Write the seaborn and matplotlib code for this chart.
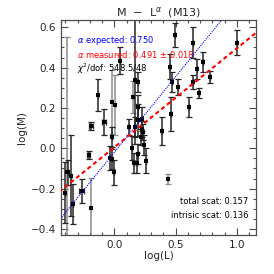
import matplotlib
matplotlib.use('Agg')
import matplotlib.pyplot as plt
import seaborn as sns
import pandas as pd
import numpy as np
from matplotlib.ticker import MultipleLocator

# values
log_l = [-0.40, -0.39, -0.375, -0.355, -0.334, -0.266, -0.21, -0.19, -0.19, -0.135,
         -0.084, -0.02, 0.006, -0.016, -0.035, -0.02, -0.005, 0.045, 0.155, 0.17,
         0.19, 0.195, 0.19, 0.223, 0.122, 0.169, 0.223, 0.142, 0.163, 0.182,
         0.19, 0.217, 0.23, 0.242, 0.255, 0.39, 0.435, 0.454, 0.467, 0.494,
         0.516, 0.462, 0.61, 0.643, 0.643, 0.676, 0.69, 0.725, 0.78, 1.0]
log_m = [-0.22, -0.12, -0.12, -0.136, -0.276, -0.21, -0.033, -0.295, 0.112, 0.264,
         0.132, 0.23, 0.215, 0.055, -0.05, -0.055, -0.12, 0.435, 0.256, 0.339,
         0.327, 0.206, 0.14, 0.145, 0.107, 0.107, 0.094, 0.0, -0.074, -0.071,
         -0.03, 0.058, 0.082, 0.016, -0.061, 0.085, -0.152, 0.405, 0.33, 0.562,
         0.302, 0.17, 0.203, 0.524, 0.33, 0.393, 0.273, 0.426, 0.355, 0.524]
err_m = [0.15, 0.67, 0.06, 0.20, 0.10, 0.06, 0.02, 0.15, 0.02, 0.08,
         0.065, 0.16, 0.15, 0.05, 0.06, 0.05, 0.06, 0.065, 0.08, 0.32,
         0.05, 0.06, 0.08, 0.06, 0.04, 0.05, 0.04, 0.06, 0.05, 0.05,
         0.05, 0.04, 0.04, 0.05, 0.06, 0.07, 0.025, 0.06, 0.05, 0.06,
         0.04, 0.085, 0.05, 0.075, 0.035, 0.05, 0.025, 0.05, 0.03, 0.06]
err_l = [0, 0, 0, 0, 0, 0.02, 0.01, 0, 0.02, 0,
         0.02, 0, 0, 0, 0, 0, 0, 0, 0, 0,
         0, 0, 0, 0, 0, 0, 0, 0, 0, 0,
         0, 0, 0, 0, 0, 0, 0, 0, 0, 0,
         0, 0, 0, 0, 0, 0, 0, 0, 0, 0]
gray_bar = [0, 1, 0, 0, 0, 0, 0, 1, 0, 0,
            0, 1, 1, 0, 0, 0, 0, 0, 1, 0,
            0, 0, 0, 0, 0, 0, 0, 0, 0, 0,
            0, 0, 0, 0, 0, 0, 1, 0, 0, 0,
            0, 0, 0, 0, 0, 0, 0, 0, 0, 0]

slope_expected, icpt_expected = 0.750, -0.02
slope_measured, icpt_measured = 0.491, 0.005

df = pd.DataFrame({'logL': log_l, 'logM': log_m, 'eM': err_m, 'eL': err_l, 'gray': gray_bar})

sns.set_style('ticks')
plt.rcParams['font.family'] = ['DejaVu Sans']

fig = plt.figure(figsize=(2.74, 2.74), dpi=100)
ax = fig.add_axes([0.2226, 0.1423, 0.7114, 0.7847])

for g, col in [(1, '0.55'), (0, '0.15')]:
    sub = df[df['gray'] == g]
    ax.errorbar(sub['logL'], sub['logM'], yerr=sub['eM'], xerr=sub['eL'], fmt='none',
                ecolor=col, elinewidth=1.1, capsize=2, capthick=0.9, zorder=2)

sns.scatterplot(data=df, x='logL', y='logM', marker='s', s=10, color='black',
                edgecolor='black', linewidth=0, ax=ax, zorder=3)

xs = np.array([-0.45, 1.2])
sns.lineplot(x=xs, y=slope_expected * xs + icpt_expected, color='blue', lw=0.8,
             linestyle=(0, (1, 1)), ax=ax, zorder=4)
sns.lineplot(x=xs, y=slope_measured * xs + icpt_measured, color='red', lw=1.5,
             linestyle=(0, (2, 1.5)), ax=ax, zorder=4)

ax.set_xlim(-0.435, 1.155)
ax.set_ylim(-0.43, 0.636)
ax.xaxis.set_major_locator(MultipleLocator(0.5))
ax.xaxis.set_minor_locator(MultipleLocator(0.1))
ax.yaxis.set_major_locator(MultipleLocator(0.2))
ax.yaxis.set_minor_locator(MultipleLocator(0.05))
ax.tick_params(which='both', direction='in', top=True, right=True, labelsize=7.5,
               width=0.8, color='0.3')
ax.tick_params(which='major', length=5)
ax.tick_params(which='minor', length=2.5)
for s in ax.spines.values():
    s.set_linewidth(0.9)
    s.set_color('0.3')

ax.set_xlabel('log(L)', fontsize=7.5, labelpad=1)
ax.set_ylabel('log(M)', fontsize=7.5, labelpad=3)
ax.set_title(r'M  $-$  L$^{\alpha}$  (M13)', fontsize=8, pad=3)

fs = 6
ax.text(0.08, 0.895, r'$\alpha$ expected: 0.750', color='blue', fontsize=fs,
        transform=ax.transAxes)
ax.text(0.08, 0.825, r'$\alpha$ measured: 0.491 $\pm$ 0.018', color='red', fontsize=fs,
        transform=ax.transAxes)
ax.text(0.08, 0.76, r'$\chi^2$/dof: 548.5/48', color='black', fontsize=fs,
        transform=ax.transAxes)
ax.text(0.96, 0.145, 'total scat: 0.157', color='black', fontsize=fs, ha='right',
        transform=ax.transAxes)
ax.text(0.96, 0.08, 'intrisic scat: 0.136', color='black', fontsize=fs, ha='right',
        transform=ax.transAxes)

fig.savefig('out.png', dpi=100)
